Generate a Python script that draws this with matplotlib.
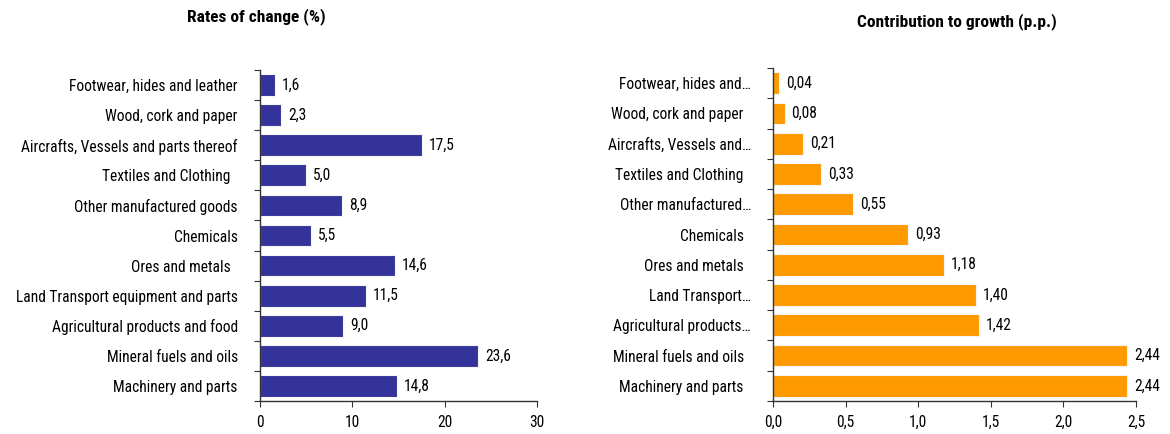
import matplotlib
matplotlib.use("Agg")
import matplotlib.pyplot as plt
from matplotlib import font_manager
import numpy as np

categories_left = [
    "Footwear, hides and leather",
    "Wood, cork and paper",
    "Aircrafts, Vessels and parts thereof",
    "Textiles and Clothing  ",
    "Other manufactured goods",
    "Chemicals",
    "Ores and metals  ",
    "Land Transport equipment and parts",
    "Agricultural products and food",
    "Mineral fuels and oils",
    "Machinery and parts",
]
rates = [1.6, 2.3, 17.5, 5.0, 8.9, 5.5, 14.6, 11.5, 9.0, 23.6, 14.8]
rate_labels = ["1,6", "2,3", "17,5", "5,0", "8,9", "5,5", "14,6", "11,5", "9,0", "23,6", "14,8"]

categories_right = [
    "Footwear, hides and…",
    "Wood, cork and paper  ",
    "Aircrafts, Vessels and…",
    "Textiles and Clothing  ",
    "Other manufactured…",
    "Chemicals  ",
    "Ores and metals  ",
    "Land Transport…",
    "Agricultural products…",
    "Mineral fuels and oils  ",
    "Machinery and parts  ",
]
contrib = [0.04, 0.08, 0.21, 0.33, 0.55, 0.93, 1.18, 1.40, 1.42, 2.44, 2.44]
contrib_labels = ["0,04", "0,08", "0,21", "0,33", "0,55", "0,93", "1,18", "1,40", "1,42", "2,44", "2,44"]

left_ticks = [0, 10, 20, 30]
right_ticks = [0.0, 0.5, 1.0, 1.5, 2.0, 2.5]
right_ticklabels = ["0,0", "0,5", "1,0", "1,5", "2,0", "2,5"]

# find a narrow font if installed
names = sorted({f.name for f in font_manager.fontManager.ttflist})
fam = None
for cand in ["Liberation Sans Narrow", "Arial Narrow", "Roboto Condensed",
             "Open Sans Condensed", "DejaVu Sans Condensed", "Noto Sans Condensed"]:
    if cand in names:
        fam = cand
        break
stretch = "normal"
if fam is None:
    cond = [f for f in font_manager.fontManager.ttflist
            if "Condensed" in f.fname or "Narrow" in f.fname]
    if cond:
        fam = cond[0].name
        stretch = "condensed"
    else:
        fam = "Liberation Sans"
plt.rcParams['font.family'] = [fam, "DejaVu Sans"]
plt.rcParams['font.stretch'] = stretch
narrow = ("Narrow" in fam or "Condensed" in fam or stretch == "condensed")
FS = 11.2 if narrow else 9.5
TFS = 12.5 if narrow else 10.5

W, H = 1170, 434
fig = plt.figure(figsize=(W / 100, H / 100), dpi=100)

def px_axes(x0, x1, y0, y1):
    return fig.add_axes([x0 / W, 1 - y1 / H, (x1 - x0) / W, (y1 - y0) / H])

ax1 = px_axes(260, 537, 70, 401)
ax2 = px_axes(773, 1136, 68, 401)

def draw(ax, cats, vals, labels, color, xmax, ticks, ticklabels, offset):
    n = len(cats)
    y = np.arange(n)[::-1]
    ax.barh(y, vals, height=0.72, color=color, edgecolor="#f4f4f4", linewidth=0.8)
    for yi, v, lab in zip(y, vals, labels):
        ax.annotate(lab, (v, yi), xytext=(offset, 0), textcoords="offset points",
                    va="center", ha="left", fontsize=FS, color="black")
    ax.set_ylim(-0.5, n - 0.5)
    ax.set_xlim(0, xmax)
    ax.set_yticks(y)
    ax.set_yticklabels(cats, fontsize=FS, color="black")
    ax.set_yticks(np.arange(n + 1) - 0.5, minor=True)
    ax.tick_params(axis="y", which="major", length=0, pad=16)
    ax.tick_params(axis="y", which="minor", length=4, width=0.8, color="#333333")
    ax.set_xticks(ticks)
    ax.set_xticklabels(ticklabels, fontsize=FS, color="black")
    ax.tick_params(axis="x", length=4, width=0.8, color="#333333", pad=6)
    for s in ["top", "right"]:
        ax.spines[s].set_visible(False)
    for s in ["left", "bottom"]:
        ax.spines[s].set_color("#333333")
        ax.spines[s].set_linewidth(1.0)

draw(ax1, categories_left, rates, rate_labels, "#333399", 30, left_ticks,
     [str(t) for t in left_ticks], 5)
draw(ax2, categories_right, contrib, contrib_labels, "#FF9900", 2.5, right_ticks,
     right_ticklabels, 5)

fig.text(256 / W, 1 - 17 / H, "Rates of change (%)", ha="center", va="center",
         fontsize=TFS, fontweight="bold")
fig.text(957 / W, 1 - 22 / H, "Contribution to growth (p.p.)", ha="center", va="center",
         fontsize=TFS, fontweight="bold")

fig.savefig("out.png", dpi=100)
